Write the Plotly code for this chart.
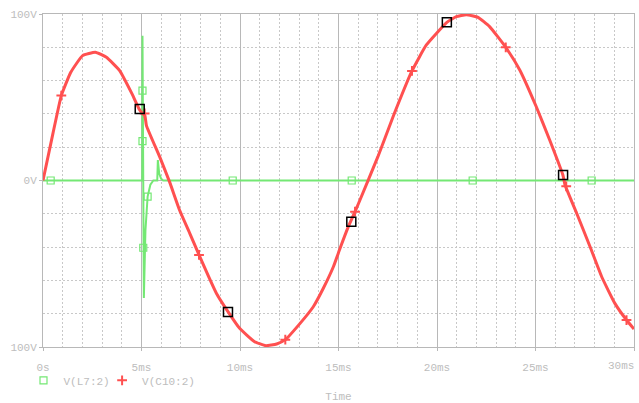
import plotly.graph_objects as go

# V(C10:2) curve (time in ms, volts)
red_t = [0, 0.5, 0.93, 1.41, 2.01, 2.66, 3.22, 3.89, 4.52, 4.9, 5.03, 5.17, 5.25, 5.92,
         6.43, 6.93, 7.45, 7.92, 8.8, 9.39, 9.98, 10.74, 11.31, 11.86, 12.3, 13.05, 13.72,
         14.23, 14.74, 15.08, 15.5, 15.84, 16.09, 17.0, 17.77, 18.73, 19.46, 20.5, 20.98, 21.49,
         22.08, 22.67, 23.49, 24.2, 25.04, 25.72, 26.39, 26.5, 27.09, 27.77, 28.36, 29.03, 29.62, 30.0]
red_v = [0, 28, 51, 65, 75, 77, 74, 66, 52, 42.5, 40.5, 39, 33, 14.3,
         -1, -17.7, -31.7, -44.7, -67.7, -78.8, -88.8, -96.8, -99.2, -98.2, -95.6, -85.8, -75.8,
         -64.7, -51.8, -40.7, -27.7, -18.7, -11.7, 14.3, 38.3, 65.8, 81.4, 95, 98.4, 99.6,
         98, 92.4, 80, 66.4, 44.3, 24.3, 3.3, -2.7, -19.7, -39.8, -57.8, -73.8, -83.8, -89.2]

# "+" markers of V(C10:2)
red_mk_t = [0.93, 5.16, 7.92, 12.3, 15.84, 18.73, 23.49, 26.56, 29.62]
red_mk_v = [51, 40.3, -44.7, -95.6, -18.7, 65.8, 80, -3.5, -83.8]

# V(L7:2) curve
grn_t = [0, 5.04, 5.05, 5.12, 5.2, 5.31, 5.45, 5.6, 5.8, 5.83, 5.9, 6.0, 6.1, 30]
grn_v = [0, 0, 87, -70.6, -30, -9.7, -2.5, 0, 0, 12.3, 4, 1, 0, 0]

# square markers of V(L7:2)
grn_mk_t = [0.39, 5.05, 5.05, 5.09, 5.31, 9.63, 15.67, 21.81, 27.85]
grn_mk_v = [0, 54, 23.7, -40.4, -9.7, 0, 0, 0, 0]

# black cursor squares
blk_t = [4.91, 9.39, 15.65, 20.5, 26.4]
blk_v = [43, -79, -24.7, 95, 3.3]

x_tickvals = [0, 5, 10, 15, 20, 25, 30]
x_ticktext = ["0s", "5ms", "10ms", "15ms", "20ms", "25ms", "30ms"]
y_tickvals = [-100, 0, 100]
y_ticktext = ["100V", "0V", "100V"]

RED = "#ff5050"
GREEN = "#74e874"
GRAY = "#b8b8b8"
TXT = "#bdbdbd"
FONT = "Liberation Mono"

fig = go.Figure()
fig.add_trace(go.Scatter(x=grn_t, y=grn_v, mode="lines", line=dict(color=GREEN, width=2),
                         showlegend=False, hoverinfo="skip"))
fig.add_trace(go.Scatter(x=red_t, y=red_v, mode="lines", line=dict(color=RED, width=3, shape="spline", smoothing=0.4),
                         showlegend=False, hoverinfo="skip"))
fig.add_trace(go.Scatter(x=grn_mk_t, y=grn_mk_v, mode="markers", name="V(L7:2)", legend="legend",
                         marker=dict(symbol="square-open", size=7, color=GREEN, line=dict(width=1.2))))
fig.add_trace(go.Scatter(x=red_mk_t, y=red_mk_v, mode="markers", name="V(C10:2)", legend="legend2",
                         marker=dict(symbol="cross-thin", size=7, color=RED, line=dict(width=2, color=RED))))
fig.add_trace(go.Scatter(x=blk_t, y=blk_v, mode="markers", showlegend=False,
                         marker=dict(symbol="square-open", size=9, color="black", line=dict(width=1.5))))

leg_common = dict(orientation="h", y=-0.1, yanchor="middle", xanchor="left",
                  font=dict(family=FONT, size=11, color=TXT), itemwidth=30,
                  bgcolor="rgba(0,0,0,0)")

# all tick labels except the last one come from the axis; the last one is right-aligned
x_axis_labels = x_ticktext[:-1] + [""]

fig.update_layout(
    width=639, height=403,
    margin=dict(l=43, r=5, t=14, b=56),
    paper_bgcolor="white", plot_bgcolor="white",
    font=dict(family=FONT, size=11, color=TXT),
    legend=dict(x=-0.033, **leg_common),
    legend2=dict(x=0.1, **leg_common),
    annotations=[dict(x=x_tickvals[-1], xref="x", y=0, yref="paper", text=x_ticktext[-1],
                      showarrow=False, xanchor="right", yanchor="middle", xshift=2, yshift=-19,
                      font=dict(family=FONT, size=11, color=TXT))],
)
fig.update_xaxes(
    range=[0, 30], tickvals=x_tickvals, ticktext=x_axis_labels, automargin=False,
    ticklabelstandoff=7,
    showgrid=True, gridcolor=GRAY, gridwidth=1,
    minor=dict(dtick=1, tick0=0, showgrid=True, gridcolor="#c8c8c8", griddash="2px,2px"),
    showline=True, linecolor=GRAY, linewidth=1, mirror=True,
    ticks="outside", ticklen=3, tickcolor=GRAY, zeroline=False,
    title=dict(text="Time", font=dict(family=FONT, size=11, color=TXT), standoff=23),
    tickfont=dict(family=FONT, size=11, color=TXT),
)
fig.update_yaxes(
    range=[-100, 100], tickvals=y_tickvals, ticktext=y_ticktext, automargin=False,
    ticklabeloverflow="allow",
    showgrid=True, gridcolor=GRAY, gridwidth=1,
    minor=dict(dtick=20, tick0=0, showgrid=True, gridcolor="#c8c8c8", griddash="2px,2px"),
    showline=True, linecolor=GRAY, linewidth=1, mirror=True,
    ticks="outside", ticklen=3, tickcolor=GRAY, zeroline=False,
    tickfont=dict(family=FONT, size=11, color=TXT),
)

fig.write_html("out.html", config={"displayModeBar": False},
               post_script="document.body.style.margin='0';document.body.style.padding='0';")
